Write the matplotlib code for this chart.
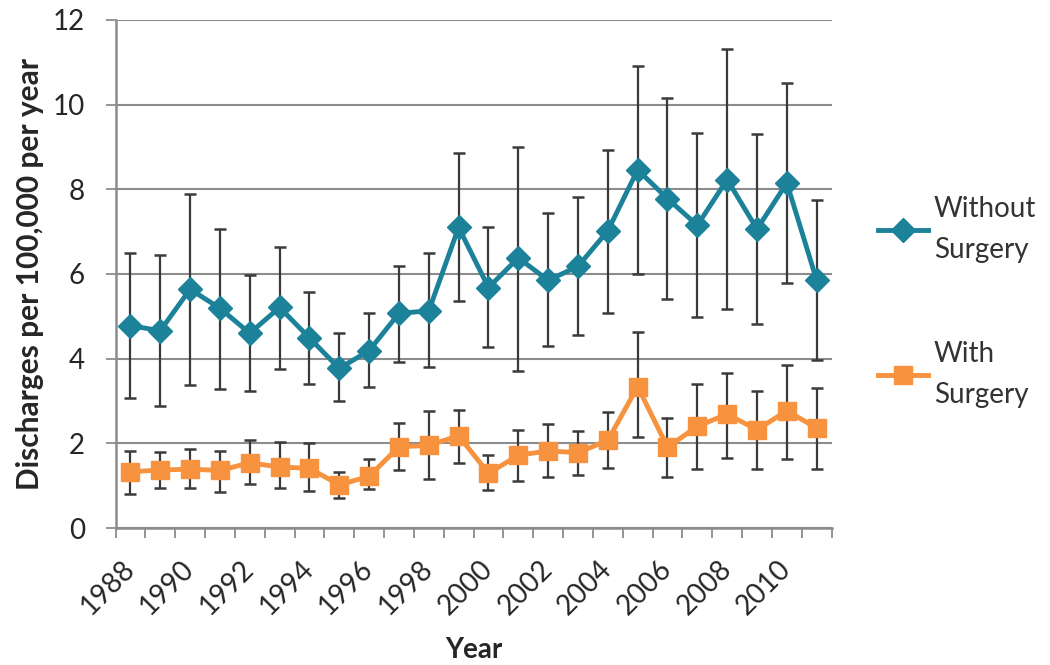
import numpy as np
import matplotlib
matplotlib.use("Agg")
import matplotlib.pyplot as plt
import matplotlib.transforms as mtransforms

plt.rcParams['font.family'] = ['Lato', 'DejaVu Sans']

years = list(range(1988, 2012))

without_surg = [4.78, 4.66, 5.64, 5.19, 4.60, 5.21, 4.49, 3.77, 4.19, 5.07,
                5.13, 7.10, 5.68, 6.38, 5.85, 6.18, 7.02, 8.46, 7.78, 7.15,
                8.23, 7.06, 8.15, 5.85]
without_hi = [6.49, 6.46, 7.88, 7.06, 5.97, 6.64, 5.58, 4.60, 5.09, 6.18,
              6.49, 8.86, 7.10, 8.99, 7.45, 7.82, 8.94, 10.92, 10.16, 9.32,
              11.31, 9.31, 10.51, 7.74]
without_lo = [3.07, 2.87, 3.37, 3.28, 3.24, 3.75, 3.40, 2.99, 3.32, 3.93,
              3.81, 5.36, 4.27, 3.71, 4.29, 4.56, 5.09, 6.00, 5.40, 4.99,
              5.17, 4.82, 5.79, 3.98]

with_surg = [1.33, 1.37, 1.39, 1.36, 1.54, 1.44, 1.41, 1.02, 1.22, 1.92,
             1.95, 2.18, 1.29, 1.72, 1.82, 1.78, 2.07, 3.34, 1.91, 2.40,
             2.69, 2.32, 2.77, 2.36]
with_hi = [1.82, 1.80, 1.86, 1.82, 2.07, 2.03, 2.00, 1.33, 1.62, 2.48,
           2.77, 2.79, 1.72, 2.32, 2.46, 2.30, 2.73, 4.64, 2.59, 3.41,
           3.67, 3.24, 3.86, 3.30]
with_lo = [0.81, 0.94, 0.94, 0.86, 1.04, 0.94, 0.88, 0.71, 0.92, 1.37,
           1.15, 1.54, 0.90, 1.10, 1.21, 1.26, 1.41, 2.14, 1.21, 1.39,
           1.66, 1.39, 1.62, 1.40]

tick_years = years[::2]

blue = '#1C8299'
orange = '#F7923F'
grey = '#8C8C8C'
txt = '#262626'

fig = plt.figure(figsize=(10.5, 6.65), dpi=100)
ax = fig.add_axes([0.110, 0.206, 0.682, 0.764])

x = np.array(years)
w = np.array(without_surg)
s = np.array(with_surg)

ax.errorbar(x, w, yerr=[w - np.array(without_lo), np.array(without_hi) - w],
            fmt='none', ecolor='#3A3A3A', elinewidth=1.6, capsize=4, capthick=1.8, zorder=2)
ax.errorbar(x, s, yerr=[s - np.array(with_lo), np.array(with_hi) - s],
            fmt='none', ecolor='#3A3A3A', elinewidth=1.6, capsize=4, capthick=1.8, zorder=2)

ax.plot(x, w, color=blue, lw=3.5, marker='D', ms=12, mec=blue, mfc=blue,
        label='Without\nSurgery', zorder=3)
ax.plot(x, s, color=orange, lw=3.5, marker='s', ms=13, mec=orange, mfc=orange,
        label='With\nSurgery', zorder=3)

ax.set_xlim(years[0] - 0.5, years[-1] + 0.5)
ax.set_ylim(0, 12)
ax.set_yticks(range(0, 13, 2))
ax.yaxis.grid(True, color=grey, lw=1.5)
ax.set_axisbelow(True)

# year labels: slanted, drawn as text under each even year
ax.set_xticks(tick_years)
ax.set_xticklabels([])
ax.set_xticks(np.arange(years[0] - 0.5, years[-1] + 1), minor=True)
ax.tick_params(axis='x', which='major', length=0)
ax.tick_params(axis='x', which='minor', length=7, width=1.3, color=grey, direction='out')
lab_tr = ax.get_xaxis_transform() + mtransforms.ScaledTranslation(0, -37 / 100, fig.dpi_scale_trans)
for yr in tick_years:
    ax.text(yr, 0, str(yr), transform=lab_tr, rotation=45, rotation_mode='anchor',
            ha='right', va='center', fontsize=20, color=txt)

ax.tick_params(axis='y', length=7, width=1.3, color=grey, labelsize=20,
               labelcolor=txt, pad=15)

for side in ['top', 'right']:
    ax.spines[side].set_visible(False)
for side in ['left', 'bottom']:
    ax.spines[side].set_color(grey)
    ax.spines[side].set_linewidth(1.8)

ax.set_ylabel('Discharges per 100,000 per year', fontsize=21.5, fontweight='bold',
              color=txt, labelpad=6)
ax.text(0.5, -0.240, 'Year', transform=ax.transAxes, ha='center', va='center',
        fontsize=20, fontweight='bold', color=txt)

leg = ax.legend(loc='upper left', bbox_to_anchor=(1.03, 0.702), frameon=False,
                fontsize=20, labelspacing=2.8, handlelength=1.8, handletextpad=0.2,
                labelcolor='#333333')
for t in leg.get_texts():
    t.set_linespacing(1.7)

fig.savefig('out.png', dpi=100)
